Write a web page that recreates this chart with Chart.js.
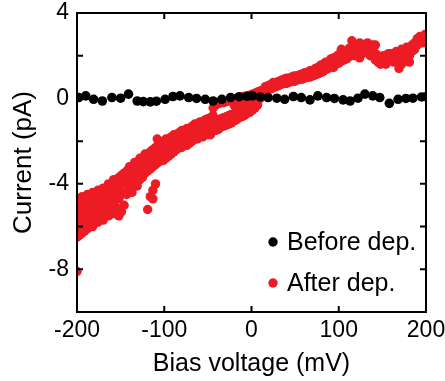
<!DOCTYPE html>
<html>
<head>
<meta charset="utf-8">
<script src="https://cdn.jsdelivr.net/npm/chart.js@4.4.0/dist/chart.umd.min.js"></script>
<style>
  body { margin: 0; background: #fff; }
  canvas { display: block; }
</style>
</head>
<body>
<canvas id="iv-chart" width="445" height="381"></canvas>
<script>
'use strict';

// Before deposition: bias (mV) and current (pA)
var beforeV = [-198, -190, -181, -171, -160, -150, -141, -131, -124, -116,
    -109, -99, -90, -82, -72, -63, -53, -44, -34, -24,
    -14, -5, 1, 10, 19, 29, 38, 48, 57, 67,
    76, 86, 95, 105, 113, 122, 130, 139, 147, 158,
    168, 177, 185, 195, 200];
var beforeI = [0.04, 0.12, -0.04, -0.12, 0.04, 0.01, 0.2, -0.12, -0.15, -0.16,
    -0.13, -0.04, 0.09, 0.12, 0.04, 0, -0.04, -0.12, -0.04, 0.04,
    0.08, 0.1, 0.12, 0.07, 0.04, 0.01, -0.04, 0.09, 0.04, -0.07,
    0.12, 0.04, 0, -0.07, -0.12, 0.01, 0.2, 0.12, 0.04, -0.23,
    -0.04, 0, 0.01, 0.07, 0.08];

// After deposition: each bias step has several readings (sweeps)
var afterV = [-200, -197, -194, -191, -188, -185, -182, -179, -176, -173,
    -170, -167, -164, -161, -158, -155, -152, -149, -146, -143,
    -140, -137, -134, -131, -128, -125, -122, -119, -116, -113,
    -110, -108, -107, -104, -101, -98, -95, -92, -89, -86,
    -83, -80, -77, -74, -71, -68, -65, -62, -59, -56,
    -53, -50, -47, -44, -41, -38, -35, -32, -29, -26,
    -23, -20, -17, -14, -11, -8, -5, -2, 1, 4,
    7, 10, 13, 16, 19, 22, 25, 28, 31, 34,
    37, 40, 43, 46, 49, 52, 55, 58, 61, 64,
    67, 70, 73, 76, 79, 82, 85, 88, 91, 94,
    97, 100, 103, 106, 109, 112, 115, 118, 121, 124,
    127, 130, 133, 136, 139, 142, 145, 148, 151, 154,
    157, 160, 163, 166, 169, 172, 175, 178, 181, 184,
    187, 190, 193, 196, 199];
var afterI = [
    [-4.7, -5.2, -5.7, -6.2, -6.5, -8.1], [-4.9, -5.5, -6.0, -6.4], [-4.6, -5.1, -5.7, -6.3],
    [-4.8, -5.4, -5.9, -6.2], [-4.5, -5.0, -5.6, -6.1], [-4.7, -5.3, -5.8, -6.0],
    [-4.4, -4.9, -5.5, -6.0], [-4.6, -5.2, -5.7], [-4.3, -4.8, -5.4, -5.8], [-4.4, -5.0, -5.6],
    [-4.2, -4.7, -5.2, -5.7], [-4.3, -4.9, -5.4], [-4.0, -4.5, -5.0, -5.5], [-4.1, -4.6, -5.3],
    [-3.8, -4.3, -4.9, -5.4], [-3.9, -4.5, -5.1], [-3.7, -4.2, -4.7, -5.5], [-3.6, -4.0, -4.5, -5.3],
    [-3.5, -3.9, -4.4, -5.0], [-3.4, -3.8, -4.5],
    [-3.2, -3.7, -4.2], [-3.2, -3.6, -4.0, -4.4], [-3.0, -3.5, -3.9], [-3.0, -3.4, -4.1],
    [-2.8, -3.3, -3.8], [-2.8, -3.2, -3.7], [-2.6, -3.1, -3.5], [-2.6, -3.0, -3.4, -5.2],
    [-2.5, -2.9, -3.3, -4.6], [-2.4, -2.8, -3.2, -4.3, -4.7],
    [-2.3, -2.7, -3.1, -4.0], [-1.9], [-2.2, -2.6, -3.0], [-2.1, -2.5, -2.9], [-2.0, -2.4, -2.9],
    [-1.9, -2.3, -2.8], [-1.9, -2.3, -2.7], [-1.8, -2.2, -2.6], [-1.7, -2.1, -2.5], [-1.7, -2.0, -2.4],
    [-1.6, -2.0, -2.3], [-1.5, -1.9, -2.3], [-1.5, -1.8, -2.2], [-1.4, -1.8, -2.2], [-1.4, -1.7, -2.1],
    [-1.3, -1.7, -2.0], [-1.2, -1.6, -1.9], [-1.2, -1.5, -1.9], [-1.1, -1.5, -1.8], [-1.1, -1.4, -1.8],
    [-1.0, -1.4, -1.7], [-0.95, -1.3, -1.6, -1.7], [-0.9, -1.2, -1.4, -1.7], [-0.45, -0.8, -1.2, -1.5],
    [-0.3, -1.0, -1.25, -1.5], [-0.25, -1.0, -1.2, -1.45], [-0.2, -0.95, -1.15, -1.35],
    [-0.2, -0.9, -1.1, -1.3], [-0.15, -0.85, -1.05, -1.25], [-0.1, -0.8, -1.0, -1.2],
    [-0.1, -0.75, -0.95, -1.15], [-0.05, -0.3, -0.7, -1.05], [0.0, -0.25, -0.65, -1.0],
    [0.0, -0.2, -0.6, -0.9], [0.05, -0.15, -0.55, -0.85], [0.1, -0.1, -0.5, -0.8],
    [0.1, -0.05, -0.45, -0.7], [0.15, 0.0, -0.4, -0.65], [0.2, 0.05, -0.3, -0.55],
    [0.25, 0.1, -0.2, -0.45],
    [0.3, 0.15, -0.1, -0.3], [0.35, 0.2, 0.0], [0.4, 0.25], [0.35, 0.55], [0.4, 0.6],
    [0.45, 0.65], [0.5, 0.75], [0.55, 0.75], [0.6, 0.8], [0.65, 0.85],
    [0.7, 0.9], [0.7, 0.95], [0.75, 0.95], [0.8, 1.0], [0.8, 1.05],
    [0.85, 1.05], [0.9, 1.1], [0.9, 1.15], [0.95, 1.2], [1.0, 1.2],
    [1.0, 1.3], [1.05, 1.3], [1.1, 1.4], [1.15, 1.45], [1.2, 1.55],
    [1.25, 1.6], [1.35, 1.7], [1.4, 1.7], [1.5, 1.85], [1.45, 1.9],
    [1.6, 1.95], [1.65, 2.05], [1.75, 2.3], [1.8, 2.1], [1.85, 2.2],
    [1.95, 2.35], [2.05, 2.7], [2.0, 2.35], [2.1, 2.5], [2.2, 2.6, 1.9],
    [2.1, 2.4], [2.2, 2.5], [2.3, 2.6], [2.2, 2.4, 2.0], [2.3, 2.5],
    [2.1, 2.5, 1.8], [1.7, 2.0], [1.6, 1.9], [1.7, 2.0], [1.6, 1.9],
    [1.8, 2.1], [1.8, 2.1], [1.7, 2.0], [1.9, 2.2], [1.8, 2.1, 1.4],
    [1.9, 2.3, 1.6], [2.0, 2.2], [2.1, 2.4], [2.0, 2.3, 1.7], [2.2, 2.5],
    [2.3, 2.6], [2.5, 2.8], [2.6, 2.9], [2.6, 2.9], [2.7, 3.0]
];

var xTicks = [-200, -100, 0, 100, 200];
var yLabelled = [4, 0, -4, -8];

var toPoints = function(vs, is) {
    return vs.reduce(function(acc, v, k) {
        var vals = Array.isArray(is[k]) ? is[k] : [is[k]];
        return acc.concat(vals.map(function(i) { return {x: v, y: i}; }));
    }, []);
};

var TICK = 6;
var framePlugin = {
    id: 'frame',
    afterDatasetsDraw: function(chart) {
        var ctx = chart.ctx, a = chart.chartArea;
        var xs = chart.scales.x, ys = chart.scales.y;
        ctx.save();
        ctx.strokeStyle = '#000';
        ctx.lineWidth = 2;
        ctx.strokeRect(a.left, a.top, a.right - a.left, a.bottom - a.top);
        ctx.beginPath();
        xs.ticks.forEach(function(t) {
            var px = xs.getPixelForValue(t.value);
            ctx.moveTo(px, a.bottom); ctx.lineTo(px, a.bottom - TICK);
            ctx.moveTo(px, a.top); ctx.lineTo(px, a.top + TICK);
        });
        ys.ticks.forEach(function(t) {
            var py = ys.getPixelForValue(t.value);
            ctx.moveTo(a.left, py); ctx.lineTo(a.left + TICK, py);
            ctx.moveTo(a.right, py); ctx.lineTo(a.right - TICK, py);
        });
        ctx.stroke();
        ctx.restore();
    }
};

var legendPlugin = {
    id: 'insideLegend',
    afterDraw: function(chart) {
        var ctx = chart.ctx, a = chart.chartArea;
        ctx.save();
        ctx.font = '25px "Liberation Sans", Arial, sans-serif';
        ctx.textBaseline = 'middle';
        chart.data.datasets.forEach(function(ds, i) {
            var cx = a.right - 153, cy = a.bottom - 70 + i * 41;
            ctx.beginPath();
            ctx.fillStyle = ds.backgroundColor;
            ctx.arc(cx, cy, 4.7, 0, Math.PI * 2);
            ctx.fill();
            ctx.fillStyle = '#000';
            ctx.fillText(ds.label, cx + 14, cy + 1);
        });
        ctx.restore();
    }
};

Chart.defaults.font.family = '"Liberation Sans", Arial, sans-serif';
Chart.defaults.color = '#000';

var ctx = document.getElementById('iv-chart').getContext('2d');
var ivChart = new Chart(ctx, {
    type: 'scatter',
    data: {
        datasets: [{
            label: 'Before dep.',
            data: toPoints(beforeV, beforeI),
            backgroundColor: '#000000',
            borderWidth: 0,
            pointRadius: 4.8,
            clip: 0
        }, {
            label: 'After dep.',
            data: toPoints(afterV, afterI),
            backgroundColor: '#ed1c24',
            borderWidth: 0,
            pointRadius: 4.7,
            clip: 0
        }]
    },
    options: {
        responsive: false,
        animation: false,
        devicePixelRatio: 1,
        layout: { padding: { top: 13, right: 19, left: 0, bottom: 0 } },
        plugins: { legend: { display: false }, tooltip: { enabled: false } },
        scales: {
            x: {
                type: 'linear',
                min: -200, max: 200,
                afterFit: function(s) {
                    s.height = 69;
                    s.paddingLeft = 0; s.paddingRight = 0;
                },
                afterBuildTicks: function(s) {
                    s.ticks = xTicks.map(function(v) { return {value: v}; });
                },
                ticks: { font: { size: 23 }, padding: 5, maxRotation: 0 },
                grid: { display: false, drawTicks: false },
                border: { display: false },
                title: {
                    display: true, text: 'Bias voltage (mV)',
                    font: { size: 25 }, padding: { top: 2, bottom: 2 }
                }
            },
            y: {
                min: -10, max: 4,
                afterFit: function(s) {
                    s.width = 77;
                    s.paddingTop = 0; s.paddingBottom = 0;
                },
                ticks: {
                    stepSize: 2, font: { size: 23 }, padding: 8,
                    callback: function(v) { return yLabelled.indexOf(v) >= 0 ? String(v) : ''; }
                },
                grid: { display: false, drawTicks: false },
                border: { display: false },
                title: {
                    display: true, text: 'Current (pA)',
                    font: { size: 26 }, padding: { top: 8, bottom: 8 }
                }
            }
        }
    },
    plugins: [framePlugin, legendPlugin]
});
</script>
</body>
</html>
